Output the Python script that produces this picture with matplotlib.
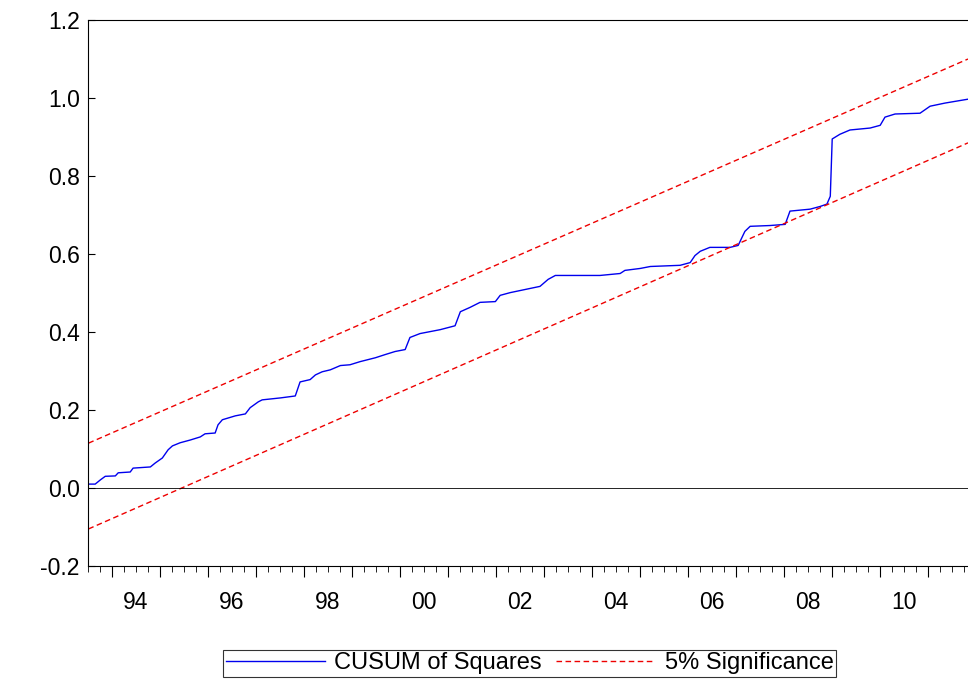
import matplotlib
matplotlib.use('Agg')
import matplotlib.pyplot as plt
import matplotlib.transforms as mtransforms
import numpy as np

# CUSUM of squares (decimal year, value)
fechas = [1993.51, 1993.65, 1993.76, 1993.86, 1994.07, 1994.13, 1994.38, 1994.44,
          1994.80, 1994.90, 1995.05, 1995.17, 1995.26, 1995.42, 1995.63, 1995.84,
          1995.94, 1996.15, 1996.21, 1996.30, 1996.57, 1996.78, 1996.88, 1997.05,
          1997.13, 1997.51, 1997.82, 1997.92, 1998.13, 1998.24, 1998.38, 1998.55,
          1998.76, 1998.96, 1999.17, 1999.49, 1999.69, 1999.90, 2000.11, 2000.21,
          2000.42, 2000.84, 2001.15, 2001.26, 2001.46, 2001.67, 2001.99, 2002.09,
          2002.30, 2002.61, 2002.92, 2003.09, 2003.24, 2004.17, 2004.59, 2004.69,
          2005.01, 2005.22, 2005.84, 2006.05, 2006.15, 2006.26, 2006.46, 2006.88,
          2007.05, 2007.19, 2007.30, 2007.71, 2008.03, 2008.13, 2008.55, 2008.76,
          2008.90, 2008.97, 2009.01, 2009.17, 2009.38, 2009.80, 2010.01, 2010.11,
          2010.32, 2010.84, 2011.05, 2011.36, 2011.84]
cusumsq = [0.010, 0.010, 0.021, 0.030, 0.031, 0.039, 0.041, 0.051,
           0.054, 0.064, 0.077, 0.098, 0.108, 0.116, 0.123, 0.131,
           0.139, 0.141, 0.162, 0.175, 0.185, 0.190, 0.206, 0.221,
           0.226, 0.231, 0.236, 0.272, 0.278, 0.290, 0.298, 0.303,
           0.314, 0.316, 0.324, 0.334, 0.342, 0.350, 0.355, 0.386,
           0.396, 0.406, 0.416, 0.452, 0.463, 0.476, 0.478, 0.494,
           0.501, 0.509, 0.517, 0.535, 0.545, 0.545, 0.550, 0.558,
           0.563, 0.568, 0.571, 0.578, 0.596, 0.607, 0.617, 0.617,
           0.622, 0.658, 0.671, 0.673, 0.676, 0.710, 0.715, 0.722,
           0.728, 0.748, 0.895, 0.907, 0.918, 0.923, 0.930, 0.951,
           0.959, 0.961, 0.979, 0.987, 0.997]

# Bandas del 5%
banda_x = [1993.51, 2011.84]
banda_sup = [0.115, 1.100]
banda_inf = [-0.105, 0.885]

etiquetas = ['94', '96', '98', '00', '02', '04', '06', '08', '10']
anios_etiqueta = [1994, 1996, 1998, 2000, 2002, 2004, 2006, 2008, 2010]

plt.rcParams['font.family'] = ['Liberation Sans', 'DejaVu Sans']
fig = plt.figure(figsize=(9.68, 6.83), dpi=100)
ax = fig.add_axes([0.0909, 0.1713, 0.9091, 0.7994])

ax.plot(fechas, cusumsq, color='#0000ee', lw=1.0, label='CUSUM of Squares')
ax.plot(banda_x, banda_sup, color='#ee0000', lw=1.0, ls=(0, (4, 2.5)), label='5% Significance')
ax.plot(banda_x, banda_inf, color='#ee0000', lw=1.0, ls=(0, (4, 2.5)))
ax.axhline(0, color='black', lw=0.6)
ax.spines['right'].set_visible(False)

ax.set_xlim(banda_x[0], banda_x[1])
ax.set_ylim(-0.2, 1.2)
ax.set_yticks(np.arange(-0.2, 1.21, 0.2))
ax.set_yticklabels(['-0.2', '0.0', '0.2', '0.4', '0.6', '0.8', '1.0', '1.2'], fontsize=16.5)
ax.tick_params(axis='y', direction='in', length=5, pad=6)

ax.set_xticks(range(1994, 2012))
ax.set_xticks(np.arange(1993.5, 2011.9, 0.25), minor=True)
ax.set_xticklabels([])
ax.tick_params(axis='x', which='major', direction='out', length=8)
ax.tick_params(axis='x', which='minor', direction='out', length=4)
trans = mtransforms.blended_transform_factory(ax.transData, ax.transAxes)
for a, t in zip(anios_etiqueta, etiquetas):
    ax.text(a + 0.5, -0.045, t, transform=trans, ha='center', va='top', fontsize=16.5)

leg = fig.legend(loc='center', bbox_to_anchor=(0.547, 0.029), ncol=2, fontsize=17,
                 frameon=True, fancybox=False, edgecolor='black', handlelength=4.2,
                 borderpad=0.1, columnspacing=0.6, handletextpad=0.4)
leg.get_frame().set_linewidth(0.8)

plt.savefig('out.png', dpi=100)
